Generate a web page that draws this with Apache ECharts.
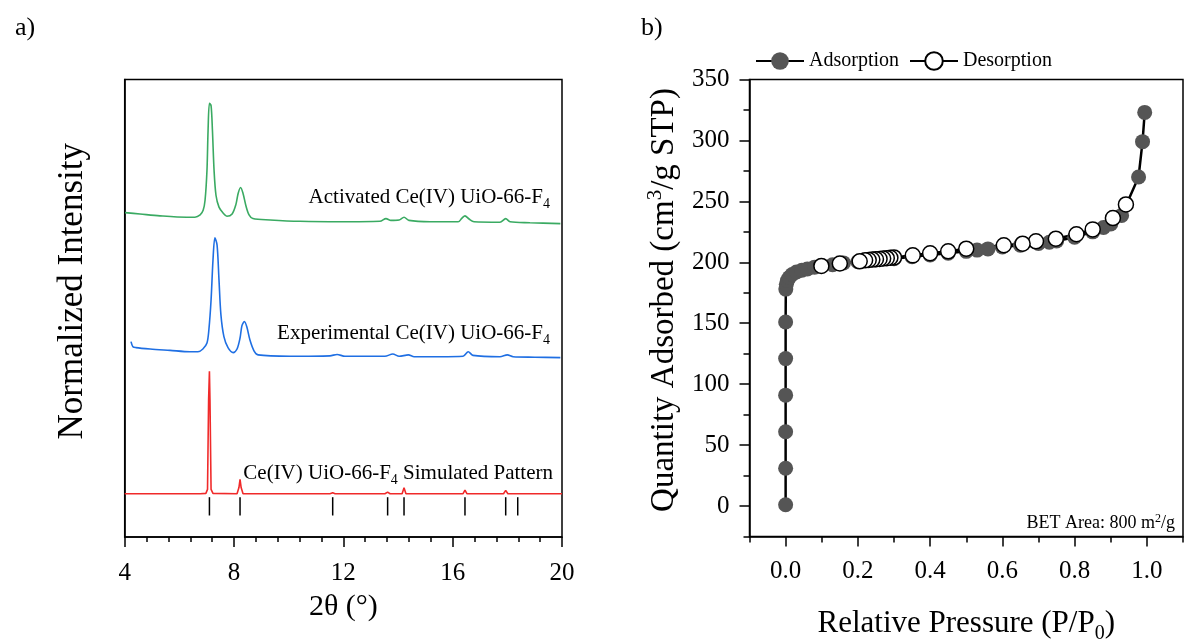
<!DOCTYPE html>
<html>
<head>
<meta charset="utf-8">
<script src="https://cdn.jsdelivr.net/npm/echarts@6/dist/echarts.min.js"></script>
<style>html,body{margin:0;padding:0;background:#fff}#c{width:1186px;height:639px}</style>
</head>
<body>
<div id="c"></div>
<script>
// ---------- Panel a) PXRD patterns (2θ, stacked intensity, a.u.) ----------
const activatedX = [4.01,4.56,5.29,6.27,6.57,6.76,6.87,6.94,7.01,7.05,7.10,7.16,7.21,7.27,7.34,7.45,7.60,7.74,7.93,8.07,8.15,8.24,8.33,8.44,8.55,8.69,9.32,10.41,11.88,13.34,13.56,13.74,14.04,14.22,14.40,15.17,16.20,16.34,16.45,16.60,16.78,17.73,17.94,18.10,18.83,19.94];
const activatedY = [70.9,70.6,70.2,69.9,69.9,70.4,71.4,73.6,80.1,88.8,94.8,94.3,88.9,80.1,74.7,72.1,70.8,70.1,70.6,72.7,75.1,76.4,75.1,72.3,70.4,69.6,69.3,69.0,68.9,69.0,69.6,69.2,69.3,69.9,69.2,68.9,68.9,69.7,70.2,69.5,68.9,68.8,69.6,68.9,68.7,68.5];

const experimentalX = [4.23,4.30,4.41,4.93,5.66,6.39,6.68,6.86,7.01,7.08,7.16,7.23,7.30,7.38,7.45,7.52,7.63,7.78,7.97,8.11,8.22,8.29,8.38,8.47,8.58,8.73,8.88,10.05,11.51,11.77,12.06,13.52,13.81,14.04,14.38,14.59,15.54,16.38,16.57,16.74,17.73,18.00,18.21,19.01,19.94];
const experimentalY = [42.7,41.6,41.4,41.1,40.8,40.5,40.5,41.1,42.4,45.3,51.8,60.5,65.4,63.8,56.2,48.6,43.8,41.4,40.3,41.1,43.5,46.2,47.1,45.9,43.1,40.7,39.8,39.5,39.6,39.9,39.5,39.5,40.0,39.5,39.8,39.4,39.4,39.5,40.5,39.7,39.4,39.8,39.4,39.3,39.2];

const simulatedX = [4.00,6.76,6.97,7.03,7.07,7.10,7.12,7.16,7.23,8.11,8.18,8.22,8.26,8.33,11.51,11.61,11.70,13.52,13.62,13.71,14.15,14.22,14.29,16.38,16.45,16.52,17.86,17.94,18.02,18.32,18.39,18.46,20.00];
const simulatedY = [9.46,9.46,9.53,10.4,30.0,36.2,30.0,10.4,9.53,9.46,10.8,12.6,10.8,9.46,9.46,9.68,9.46,9.46,9.81,9.46,9.46,10.77,9.46,9.46,10.25,9.46,9.46,10.18,9.46,9.46,9.63,9.46,9.46];

// reference reflection markers (2θ) and their vertical extent (a.u.)
const reflections = [7.10,8.22,11.61,13.62,14.22,16.45,17.94,18.38];
const reflectionSpan = [4.7, 8.7];

const xrdTicks = [4,8,12,16,20];

// ---------- Panel b) N2 isotherm ----------
const adsP = [0,0,0,0,0,0,0.0005,0.002,0.005,0.01,0.018,0.03,0.045,0.06,0.08,0.10,0.13,0.16,0.20,0.25,0.30,0.35,0.40,0.45,0.50,0.53,0.56,0.60,0.65,0.70,0.73,0.75,0.80,0.85,0.88,0.90,0.93,0.977,0.988,0.994];
const adsQ = [1,31,61,91,121,151,178,182,185,187.5,190,192,193.5,194.5,196,197,198,199.5,200.5,202,203,204.5,206,207.5,209,210,211,212.5,214,215.5,216.5,217.5,220.5,225,228.5,231.5,238.5,270,299,323];

const desP = [0.942,0.906,0.85,0.805,0.748,0.693,0.656,0.604,0.50,0.45,0.40,0.352,0.30,0.29,0.28,0.27,0.26,0.25,0.24,0.23,0.22,0.205,0.15,0.099];
const desQ = [247.5,236.3,227,223,219.4,217.2,215.3,214,211.2,209,207.4,205.7,204,203.7,203.4,203.1,202.8,202.5,202.2,201.9,201.6,200.8,199,197];

const pMajor = [0,0.2,0.4,0.6,0.8,1.0];
const pMinor = [-0.1,0.1,0.3,0.5,0.7,0.9,1.1];
const qMajor = [0,50,100,150,200,250,300,350];
const qMinor = [-25,25,75,125,175,225,275,325];

// ---------- build ----------
const zip = (a,b) => a.map((v,i)=>[v,b[i]]);
const FF = "'Liberation Serif','Times New Roman',serif";
const richBase = (fs) => ({
  m:{fontFamily:FF,fontSize:fs,fontWeight:'normal',color:'#000',lineHeight:fs+4},
  s:{fontFamily:FF,fontSize:Math.round(fs*0.65),fontWeight:'normal',color:'#000',lineHeight:Math.round(fs*0.65),padding:[Math.round(fs*0.6),0,0,0]},
  p:{fontFamily:FF,fontSize:Math.round(fs*0.65),fontWeight:'normal',color:'#000',lineHeight:Math.round(fs*0.65),padding:[0,0,Math.round(fs*0.5),0]}
});
const axLine = {show:true,onZero:false,lineStyle:{color:'#000',width:1.5}};
const tickStyle = {color:'#000',width:1.5};

const chart = echarts.init(document.getElementById('c'),null,{renderer:'canvas'});
chart.setOption({
  animation:false,
  backgroundColor:'#fff',
  title:[
    {text:'a)',left:10,top:10,textStyle:{fontFamily:FF,fontSize:26,fontWeight:'normal',color:'#000'}},
    {text:'b)',left:636,top:10,textStyle:{fontFamily:FF,fontSize:26,fontWeight:'normal',color:'#000'}},
    {text:'{m|Activated Ce(IV) UiO-66-F}{s|4}',right:631,top:180,textStyle:{fontWeight:'normal',rich:richBase(21)}},
    {text:'{m|Experimental Ce(IV) UiO-66-F}{s|4}',right:631,top:316,textStyle:{fontWeight:'normal',rich:richBase(21)}},
    {text:'{m|Ce(IV) UiO-66-F}{s|4}{m| Simulated Pattern}',right:628,top:456,textStyle:{fontWeight:'normal',rich:richBase(21)}},
    {text:'{m|BET Area: 800 m}{p|2}{m|/g}',right:6,top:507,textStyle:{fontWeight:'normal',rich:richBase(18)}}
  ],
  legend:{
    left:750,top:46,itemWidth:48,itemHeight:22,itemGap:10,
    textStyle:{fontFamily:FF,fontSize:20,color:'#000'},
    data:['Adsorption','Desorption']
  },
  grid:[
    {left:124.7,right:624,top:79.5,bottom:102,show:true,borderColor:'#000',borderWidth:1.5,containLabel:false,outerBoundsMode:'none'},
    {left:749.5,right:3,top:79.5,bottom:102.5,show:true,borderColor:'#000',borderWidth:1.5,containLabel:false,outerBoundsMode:'none'}
  ],
  xAxis:[
    {type:'value',gridIndex:0,position:'bottom',min:4,max:20,interval:4,
     name:'2θ (°)',nameLocation:'middle',nameGap:55,nameTextStyle:{fontFamily:FF,fontSize:30,color:'#000'},
     axisLine:axLine,axisTick:{show:true,length:10,lineStyle:tickStyle},
     minorTick:{show:true,splitNumber:5,length:5,lineStyle:tickStyle},
     axisLabel:{fontFamily:FF,fontSize:25,color:'#000',margin:24,customValues:xrdTicks},
     splitLine:{show:false}},
    {type:'value',gridIndex:1,position:'bottom',min:-0.1,max:1.1,
     name:'{m|Relative Pressure (P/P}{s|0}{m|)}',nameLocation:'middle',nameGap:70,
     nameTextStyle:{rich:richBase(31)},
     axisLine:axLine,
     axisTick:{show:true,length:10,customValues:pMajor,lineStyle:tickStyle},
     axisLabel:{fontFamily:FF,fontSize:25,color:'#000',margin:22,customValues:pMajor,formatter:v=>Number(v).toFixed(1)},
     splitLine:{show:false}},
    {type:'value',gridIndex:1,position:'bottom',min:-0.1,max:1.1,
     axisLine:{show:false,onZero:false},
     axisTick:{show:true,length:6,customValues:pMinor,lineStyle:tickStyle},
     axisLabel:{show:false},splitLine:{show:false}}
  ],
  yAxis:[
    {type:'value',gridIndex:0,position:'left',min:0,max:100,
     name:'Normalized Intensity',nameLocation:'middle',nameGap:34,
     nameTextStyle:{fontFamily:FF,fontSize:35,color:'#000',padding:[0,0,0,34]},
     axisLine:axLine,axisTick:{show:false},axisLabel:{show:false},splitLine:{show:false}},
    {type:'value',gridIndex:1,position:'left',min:-25,max:350,
     name:'{m|Quantity Adsorbed (cm}{p|3}{m|/g STP)}',nameLocation:'middle',nameGap:67,
     nameTextStyle:{rich:richBase(33),padding:[0,0,0,16]},
     axisLine:axLine,
     axisTick:{show:true,length:10,customValues:qMajor,lineStyle:tickStyle},
     axisLabel:{fontFamily:FF,fontSize:25,color:'#000',margin:20,customValues:qMajor},
     splitLine:{show:false}},
    {type:'value',gridIndex:1,position:'left',min:-25,max:350,
     axisLine:{show:false,onZero:false},
     axisTick:{show:true,length:6,customValues:qMinor,lineStyle:tickStyle},
     axisLabel:{show:false},splitLine:{show:false}}
  ],
  series:[
    {name:'Activated',type:'line',xAxisIndex:0,yAxisIndex:0,data:zip(activatedX,activatedY),
     showSymbol:false,lineStyle:{color:'#3aaa62',width:1.6},smooth:0.3},
    {name:'Experimental',type:'line',xAxisIndex:0,yAxisIndex:0,data:zip(experimentalX,experimentalY),
     showSymbol:false,lineStyle:{color:'#1f6fe3',width:1.6},smooth:0.3},
    {name:'Simulated',type:'line',xAxisIndex:0,yAxisIndex:0,data:zip(simulatedX,simulatedY),
     showSymbol:false,lineStyle:{color:'#f02a2a',width:1.6}},
    {name:'Reflections',type:'custom',xAxisIndex:0,yAxisIndex:0,
     data:reflections.map(v=>[v,reflectionSpan[0],reflectionSpan[1]]),
     renderItem:(params,api)=>{
       const a = api.coord([api.value(0),api.value(1)]);
       const b = api.coord([api.value(0),api.value(2)]);
       return {type:'line',shape:{x1:a[0],y1:a[1],x2:b[0],y2:b[1]},style:{stroke:'#000',lineWidth:1.5}};
     }},
    {name:'Adsorption',type:'line',xAxisIndex:1,yAxisIndex:1,data:zip(adsP,adsQ),
     symbol:'circle',symbolSize:15,
     itemStyle:{color:'#555555',borderWidth:0},
     lineStyle:{color:'#000',width:2.5}},
    {name:'Desorption',type:'line',xAxisIndex:1,yAxisIndex:1,data:zip(desP,desQ),
     symbol:'circle',symbolSize:15,
     itemStyle:{color:'#ffffff',borderColor:'#000',borderWidth:1.5},
     lineStyle:{color:'#000',width:2.5}}
  ]
});
</script>
</body>
</html>
